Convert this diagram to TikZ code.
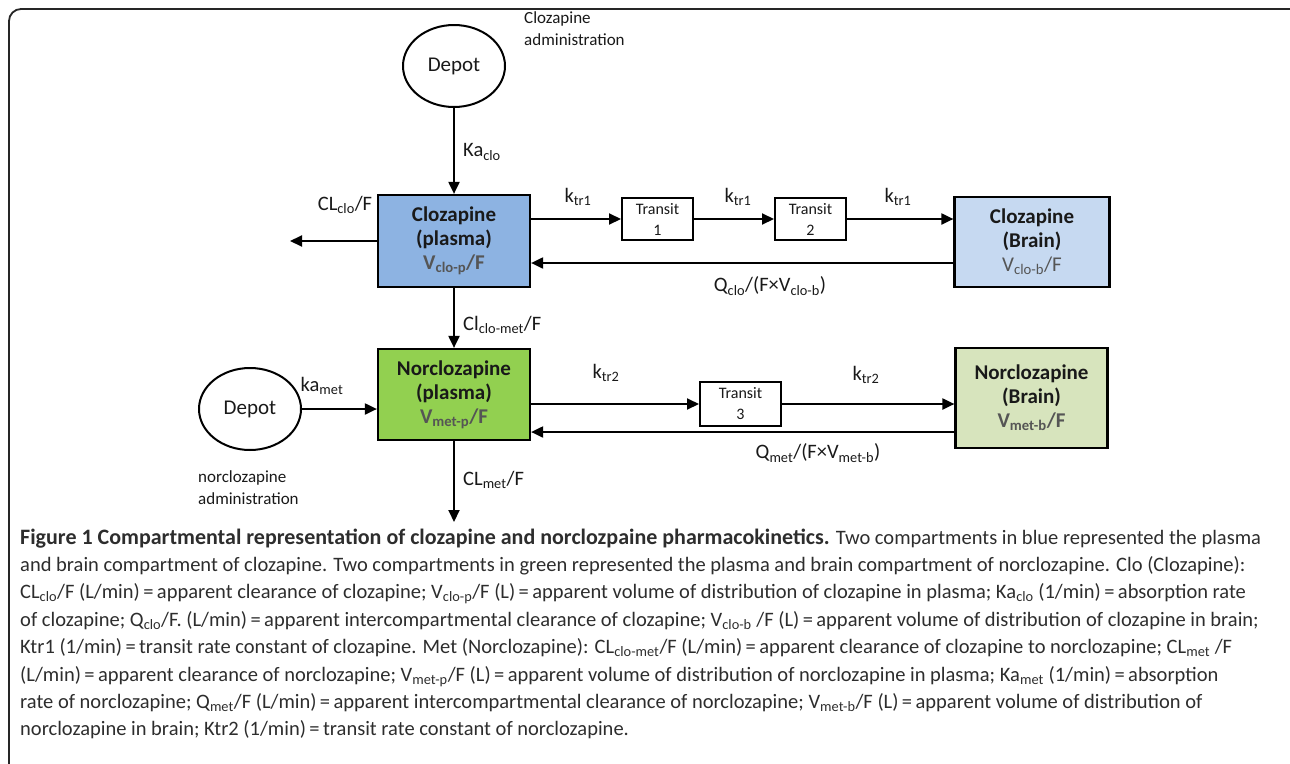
\documentclass[tikz,border=0pt]{standalone}
\usepackage{fontspec}
\setmainfont{Carlito}
\usetikzlibrary{arrows.meta,shapes.geometric}
\definecolor{cloP}{RGB}{141,179,226}
\definecolor{cloB}{RGB}{198,217,241}
\definecolor{metP}{RGB}{146,208,80}
\definecolor{metB}{RGB}{215,228,189}
\definecolor{vgray}{RGB}{85,85,85}
\definecolor{txt}{RGB}{25,25,25}
\definecolor{captxt}{RGB}{45,45,45}
\newcommand\mysub[1]{\textsubscript{#1}}
\begin{document}
\begin{tikzpicture}[x=1pt,y=-1pt,
  comp/.style={draw, line width=2.2pt, inner sep=0pt, align=center, text=txt,
    font=\fontsize{21}{24}\selectfont\bfseries},
  transbox/.style={draw, line width=2pt, inner sep=0pt, align=center, fill=white, text=txt,
    font=\fontsize{16}{21}\selectfont},
  depotnode/.style={ellipse, draw, line width=2pt, minimum width=102pt, minimum height=82pt,
    text=txt, font=\fontsize{21}{24}\selectfont},
  flow/.style={line width=2pt, -{Triangle[length=12pt,width=11pt]}},
  lbl/.style={font=\fontsize{20.5}{22}\selectfont, inner sep=0pt, text=txt},
  smlbl/.style={font=\fontsize{17}{22}\selectfont, inner sep=0pt, align=left, text=txt},
  capline/.style={anchor=base west, inner sep=0pt, text=captxt, font=\fontsize{20.5}{24}\selectfont}
]
\useasboundingbox (0,0) rectangle (1290,763);
% frame
\draw[line width=1.8pt, black!85, rounded corners=12pt] (9,770) -- (9,9) -- (1296,9);

% nodes
\node[depotnode] (depA) at (454,66) {Depot};
\node[smlbl, anchor=west] (admA) at (524,29) {Clozapine\\administration};
\node[comp, fill=cloP, minimum width=152pt, minimum height=92pt] (cloP) at (454,241)
  {Clozapine\\(plasma)\\{\color{vgray}V\mysub{clo-p}/F}};
\node[transbox, minimum width=71pt, minimum height=42pt] (t1) at (657.5,219) {Transit\\1};
\node[transbox, minimum width=71pt, minimum height=42pt] (t2) at (810.5,219) {Transit\\2};
\node[comp, fill=cloB, minimum width=155pt, minimum height=90pt] (cloB) at (1032,242)
  {Clozapine\\(Brain)\\{\mdseries\color{vgray}V\mysub{clo-b}/F}};
\coordinate (cloL) at (290,241);

\node[comp, fill=metP, minimum width=152pt, minimum height=91pt] (metP) at (454,394.5)
  {Norclozapine\\(plasma)\\{\color{vgray}V\mysub{met-p}/F}};
\node[depotnode] (depB) at (250,409) {Depot};
\node[smlbl, anchor=west] (admB) at (198,488) {norclozapine\\administration};
\node[transbox, minimum width=81pt, minimum height=44pt] (t3) at (740.5,404) {Transit\\3};
\node[comp, fill=metB, minimum width=152pt, minimum height=100pt] (metB) at (1031.5,398)
  {Norclozapine\\(Brain)\\{\color{vgray}V\mysub{met-b}/F}};
\coordinate (metOut) at (454,522);

% connectors
\draw[flow] (depA) -- (cloP);
\node[lbl, anchor=west] at (463,152) {Ka\mysub{clo}};
\draw[flow] (cloP.west |- cloL) -- (cloL);
\node[lbl] at (345,205) {CL\mysub{clo}/F};
\draw[flow] (cloP.east |- t1) -- (t1.west);
\node[lbl] at (578,197) {k\mysub{tr1}};
\draw[flow] (t1.east) -- (t2.west);
\node[lbl] at (738,197) {k\mysub{tr1}};
\draw[flow] (t2.east) -- (cloB.west |- t2);
\node[lbl] at (898,197) {k\mysub{tr1}};
\draw[flow] (cloB.west |- 0,263) -- (cloP.east |- 0,263);
\node[lbl] at (770,286) {Q\mysub{clo}/(F×V\mysub{clo-b})};

\draw[flow] (cloP) -- (metP);
\node[lbl, anchor=west] at (463,325) {Cl\mysub{clo-met}/F};
\draw[flow] (depB) -- (metP.west |- depB);
\node[lbl] at (322,386) {ka\mysub{met}};
\draw[flow] (metP) -- (metOut);
\node[lbl, anchor=west] at (463,480) {CL\mysub{met}/F};
\draw[flow] (metP.east |- t3) -- (t3.west);
\node[lbl] at (606,373) {k\mysub{tr2}};
\draw[flow] (t3.east) -- (metB.west |- t3);
\node[lbl] at (866,375) {k\mysub{tr2}};
\draw[flow] (metB.west |- 0,432) -- (metP.east |- 0,432);
\node[lbl] at (818,453) {Q\mysub{met}/(F×V\mysub{met-b})};

% caption
\node[capline] at (20,544) {{\fontsize{22}{24}\selectfont\bfseries Figure 1 Compartmental representation of clozapine and norclozpaine pharmacokinetics.} Two compartments in blue represented the plasma};
\node[capline] at (20,571.4) {and brain compartment of clozapine. Two compartments in green represented the plasma and brain compartment of norclozapine. Clo (Clozapine):};
\node[capline] at (20,598.8) {CL\mysub{clo}/F (L/min)\,=\,apparent clearance of clozapine; V\mysub{clo-p}/F (L)\,=\,apparent volume of distribution of clozapine in plasma; Ka\mysub{clo} (1/min)\,=\,absorption rate};
\node[capline] at (20,626.2) {of clozapine; Q\mysub{clo}/F. (L/min)\,=\,apparent intercompartmental clearance of clozapine; V\mysub{clo-b} /F (L)\,=\,apparent volume of distribution of clozapine in brain;};
\node[capline] at (20,653.6) {Ktr1 (1/min)\,=\,transit rate constant of clozapine. Met (Norclozapine): CL\mysub{clo-met}/F (L/min)\,=\,apparent clearance of clozapine to norclozapine; CL\mysub{met} /F};
\node[capline] at (20,681) {(L/min)\,=\,apparent clearance of norclozapine; V\mysub{met-p}/F (L)\,=\,apparent volume of distribution of norclozapine in plasma; Ka\mysub{met} (1/min)\,=\,absorption};
\node[capline] at (20,708.4) {rate of norclozapine; Q\mysub{met}/F (L/min)\,=\,apparent intercompartmental clearance of norclozapine; V\mysub{met-b}/F (L)\,=\,apparent volume of distribution of};
\node[capline] at (20,735.8) {norclozapine in brain; Ktr2 (1/min)\,=\,transit rate constant of norclozapine.};
\end{tikzpicture}
\end{document}
